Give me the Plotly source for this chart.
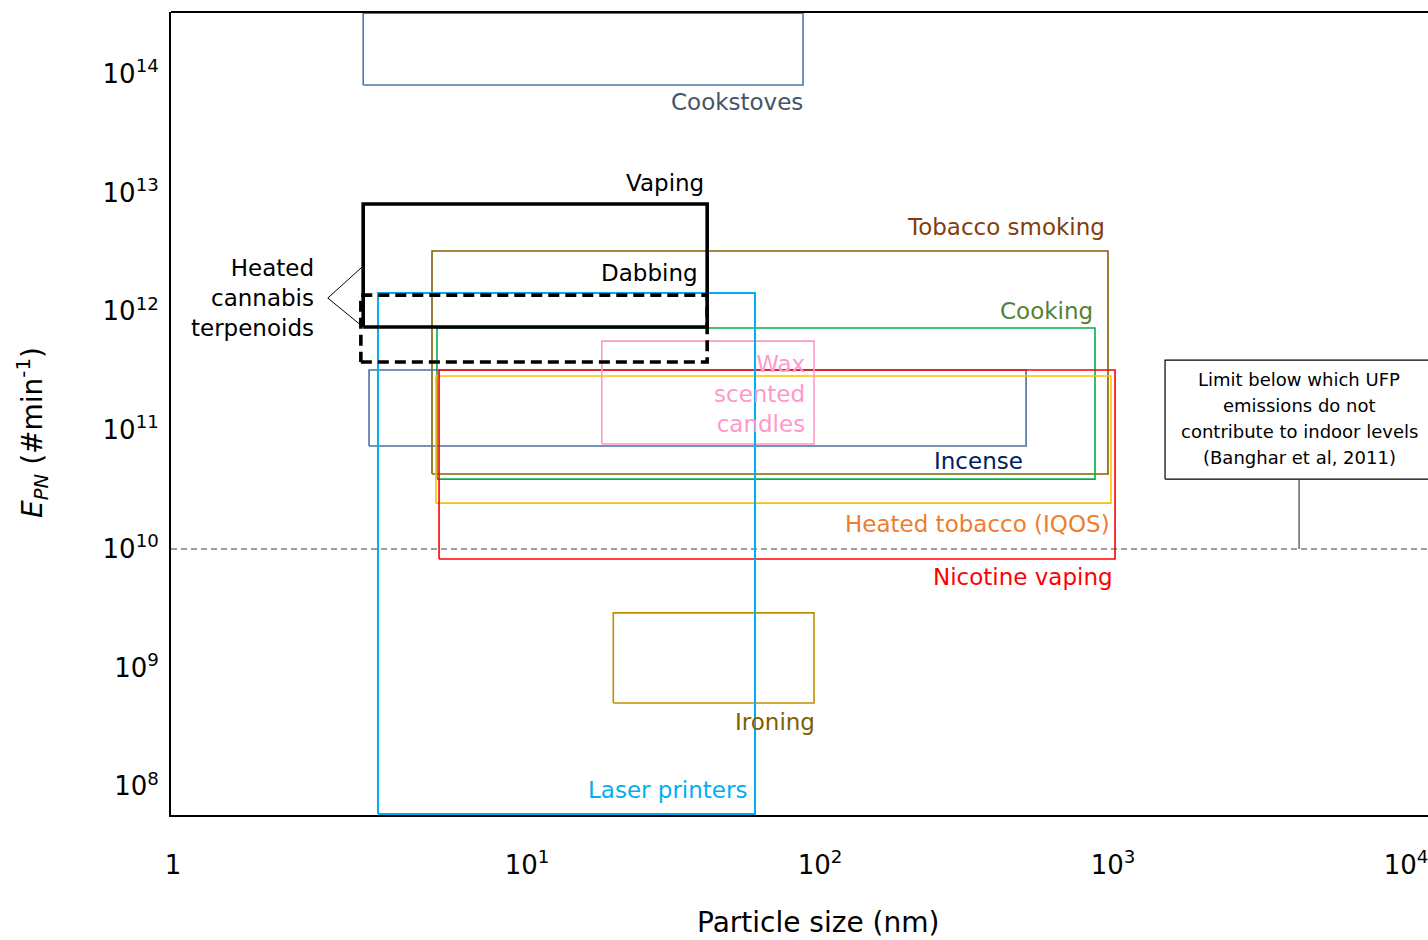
import numpy as np
import plotly.graph_objects as go

# ---------------- data ----------------
sources = ["Tobacco smoking", "Cooking", "Incense", "Heated tobacco (IQOS)",
           "Nicotine vaping", "Wax scented candles", "Ironing", "Laser printers",
           "Cookstoves", "Vaping", "Dabbing"]
size_min_nm = [4.74, 4.93, 2.89, 4.89, 5.01, 18.0, 19.7, 3.10, 2.76, 2.76, 2.71]
size_max_nm = [961, 868, 505, 984, 1016, 95.4, 95.4, 60.0, 87.5, 41.2, 41.2]
epn_min = [4.27e10, 3.87e10, 7.35e10, 2.43e10, 8.21e9, 7.64e10, 5.04e8, 5.85e7, 8.05e13, 7.38e11, 3.75e11]
epn_max = [3.22e12, 7.24e11, 3.21e11, 2.86e11, 3.21e11, 5.62e11, 2.89e9, 1.43e12, 3.24e14, 8.02e12, 1.37e12]

limit_epn = 1.0e10
limit_note_lines = ["Limit below which UFP", "emissions do not",
                    "contribute to indoor levels", "(Banghar et al, 2011)"]
limit_note_size = [1505, 20000]       # x extent of note box (nm)
limit_note_epn = [3.87e10, 3.89e11]   # y extent of note box
limit_note_anchor_nm = 4315

x_tick_vals = [10 ** -0.208, 10, 100, 1000, 10000]
x_tick_text = ["1", "10<sup>1</sup>", "10<sup>2</sup>", "10<sup>3</sup>", "10<sup>4</sup>"]
y_tick_vals = [1e8, 1e9, 1e10, 1e11, 1e12, 1e13, 1e14]
y_tick_text = ["10<sup>8</sup>", "10<sup>9</sup>", "10<sup>10</sup>", "10<sup>11</sup>",
               "10<sup>12</sup>", "10<sup>13</sup>", "10<sup>14</sup>"]

# ---------------- styles ----------------
FONT = "DejaVu Sans"
box_style = {
    "Tobacco smoking": dict(color="#7f6000", width=1.6, dash="solid"),
    "Cooking": dict(color="#00b050", width=1.6, dash="solid"),
    "Incense": dict(color="#4a72a0", width=1.6, dash="solid"),
    "Heated tobacco (IQOS)": dict(color="#ffc000", width=1.6, dash="solid"),
    "Nicotine vaping": dict(color="#ff0000", width=1.6, dash="solid"),
    "Wax scented candles": dict(color="#ff99cc", width=1.6, dash="solid"),
    "Ironing": dict(color="#bf9000", width=1.6, dash="solid"),
    "Laser printers": dict(color="#00b0f0", width=2, dash="solid"),
    "Cookstoves": dict(color="#5078a8", width=1.6, dash="solid"),
    "Vaping": dict(color="#000000", width=3.6, dash="solid"),
    "Dabbing": dict(color="#000000", width=3.6, dash="11px,6px"),
}
# label: (text, color, corner of box: 'top'/'bottom', dx px, dy px (down positive))
label_style = {
    "Cookstoves": ("Cookstoves", "#44546a", "bottom", 2, 17),
    "Vaping": ("Vaping", "#000000", "top", -1, -21),
    "Dabbing": ("Dabbing", "#000000", "top", -7, -22),
    "Tobacco smoking": ("Tobacco smoking", "#843c0c", "top", -1, -24),
    "Cooking": ("Cooking", "#548235", "top", 0, -17),
    "Wax scented candles": ("Wax<br>scented<br>candles", "#ff99cc", "top", -7, 53),
    "Incense": ("Incense", "#002060", "bottom", -1, 15),
    "Heated tobacco (IQOS)": ("Heated tobacco (IQOS)", "#ed7d31", "bottom", 1, 21),
    "Nicotine vaping": ("Nicotine vaping", "#ff0000", "bottom", 0, 18),
    "Laser printers": ("Laser printers", "#00b0f0", "bottom", -6, -24),
    "Ironing": ("Ironing", "#7f6000", "bottom", 3, 19),
}

x_range = [-0.215, 4.075]
y_range = [7.759, 14.521]

fig = go.Figure()

# limit dashed line
fig.add_trace(go.Scatter(x=[10 ** x_range[0], 10 ** x_range[1]], y=[limit_epn, limit_epn],
                         mode="lines", line=dict(color="#7f7f7f", width=1.5, dash="6px,4px"),
                         hoverinfo="skip", showlegend=False))

# boxes
for name, x0, x1, y0, y1 in zip(sources, size_min_nm, size_max_nm, epn_min, epn_max):
    st = box_style[name]
    fig.add_trace(go.Scatter(x=[x0, x1, x1, x0, x0], y=[y0, y0, y1, y1, y0], mode="lines",
                             line=dict(color=st["color"], width=st["width"], dash=st["dash"]),
                             name=name, showlegend=False, hoverinfo="name"))
    text, color, corner, dx, dy = label_style[name]
    fig.add_annotation(x=np.log10(x1), y=np.log10(y1 if corner == "top" else y0),
                       xref="x", yref="y", text=text, showarrow=False,
                       xanchor="right", yanchor="middle", align="right",
                       xshift=dx, yshift=-dy,
                       font=dict(family=FONT, size=23, color=color))

# note box for limit
fig.add_trace(go.Scatter(x=[limit_note_size[0], limit_note_size[1], limit_note_size[1], limit_note_size[0], limit_note_size[0]],
                         y=[limit_note_epn[0], limit_note_epn[0], limit_note_epn[1], limit_note_epn[1], limit_note_epn[0]],
                         mode="lines", line=dict(color="#000000", width=1.2),
                         hoverinfo="skip", showlegend=False))
fig.add_trace(go.Scatter(x=[limit_note_anchor_nm, limit_note_anchor_nm], y=[limit_note_epn[0], limit_epn],
                         mode="lines", line=dict(color="#404040", width=1.2),
                         hoverinfo="skip", showlegend=False))
note_center_y = np.log10(np.sqrt(limit_note_epn[0] * limit_note_epn[1]))
for i, line in enumerate(limit_note_lines):
    fig.add_annotation(x=np.log10(limit_note_anchor_nm), y=note_center_y,
                       xref="x", yref="y", text=line, showarrow=False,
                       xanchor="center", yanchor="middle", align="center",
                       yshift=-(i - 1.5) * 26 + 1,
                       font=dict(family=FONT, size=18, color="#000000"))

# heated cannabis terpenoids bracket
v_i = sources.index("Vaping")
brk_tip_x = 2.09
brk_tip_y = 1.294e12
fig.add_trace(go.Scatter(x=[size_min_nm[v_i], brk_tip_x, size_min_nm[v_i]],
                         y=[2.41e12, brk_tip_y, epn_min[v_i]],
                         mode="lines", line=dict(color="#000000", width=1),
                         hoverinfo="skip", showlegend=False))
fig.add_annotation(x=np.log10(brk_tip_x), y=np.log10(brk_tip_y), xref="x", yref="y",
                   text="Heated<br>cannabis<br>terpenoids", showarrow=False,
                   xanchor="right", yanchor="middle", align="right", xshift=-12,
                   font=dict(family=FONT, size=23, color="#000000"))

# axis titles
fig.add_annotation(xref="paper", yref="paper", x=-0.1098, y=0.477,
                   text="<i>E<sub>PN</sub></i> (#min<sup>-1</sup>)", textangle=-90,
                   showarrow=False, xanchor="center", yanchor="middle",
                   font=dict(family=FONT, size=28, color="#000000"))
fig.add_annotation(xref="paper", yref="paper", x=0.5147, y=-0.1333,
                   text="Particle size (nm)", showarrow=False,
                   xanchor="center", yanchor="middle",
                   font=dict(family=FONT, size=28, color="#000000"))

# top border
fig.add_shape(type="line", xref="paper", yref="paper", x0=0, x1=1, y0=1, y1=1,
              line=dict(color="#000000", width=2))

fig.update_layout(
    width=1428, height=940,
    margin=dict(l=171, r=0, t=12, b=125),
    plot_bgcolor="white", paper_bgcolor="white",
    font=dict(family=FONT, color="#000000"),
    xaxis=dict(type="log", range=x_range, tickvals=x_tick_vals, ticktext=x_tick_text,
               showgrid=False, zeroline=False, showline=True, linecolor="#000000", linewidth=2,
               ticks="", ticklabelstandoff=26, tickfont=dict(size=26),
               ticklabeloverflow="allow", layer="below traces"),
    yaxis=dict(type="log", range=y_range, tickvals=y_tick_vals, ticktext=y_tick_text,
               showgrid=False, zeroline=False, showline=True, linecolor="#000000", linewidth=2,
               ticks="", ticklabelstandoff=5, tickfont=dict(size=26),
               layer="below traces"),
)

fig.write_html("out.html", config={"displayModeBar": False},
               post_script="document.body.style.margin='0px';document.body.style.overflow='hidden';")
